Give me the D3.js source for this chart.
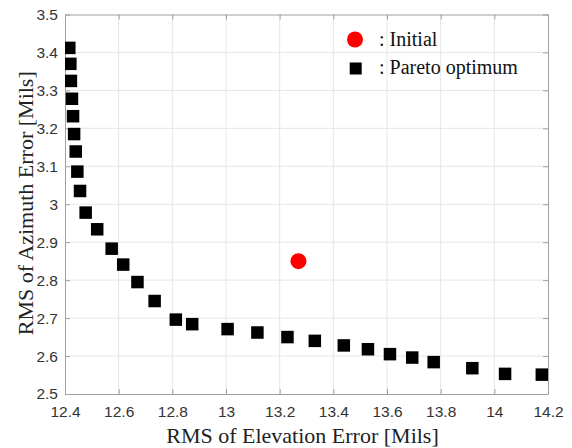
<!DOCTYPE html>
<meta charset="utf-8">
<title>Pareto optimum</title>
<style>
body { margin: 0; background: #fff; }
.grid line { stroke: #e6e6e6; stroke-width: 1; }
.tick text { font-family: "Liberation Sans", Arial, sans-serif; font-size: 15.5px; fill: #333; }
.lbl { font-family: "Liberation Serif", "Times New Roman", serif; font-size: 22px; fill: #222; }
.leg { font-family: "Liberation Serif", "Times New Roman", serif; font-size: 20px; fill: #111; }
</style>
<body>
<script src="https://d3js.org/d3.v7.min.js"></script>
<script>

// pareto front points (elevation error, azimuth error)
var elevation = [12.416, 12.420, 12.422, 12.426, 12.430, 12.434, 12.440, 12.446, 12.456, 12.477,
                 12.520, 12.574, 12.617, 12.670, 12.734, 12.813, 12.874, 13.006, 13.117, 13.229,
                 13.331, 13.439, 13.529, 13.611, 13.694, 13.774, 13.918, 14.040, 14.177];
var azimuth   = [3.412, 3.370, 3.325, 3.278, 3.232, 3.185, 3.139, 3.086, 3.035, 2.978,
                 2.934, 2.883, 2.841, 2.795, 2.745, 2.696, 2.684, 2.671, 2.662, 2.650,
                 2.640, 2.628, 2.618, 2.605, 2.596, 2.584, 2.568, 2.553, 2.551];
var initial = [13.270, 2.850];

var xTicks = [12.4, 12.6, 12.8, 13, 13.2, 13.4, 13.6, 13.8, 14, 14.2];
var yTicks = [2.5, 2.6, 2.7, 2.8, 2.9, 3, 3.1, 3.2, 3.3, 3.4, 3.5];

var margin = {top: 14.5, right: 24, bottom: 54, left: 65},
    width = 572 - margin.left - margin.right,
    height = 448 - margin.top - margin.bottom;

var svg = d3.select("body").append("svg")
    .attr("width", 572)
    .attr("height", 448);

var g = svg.append("g")
    .attr("transform", "translate(" + margin.left + "," + margin.top + ")");

var x = d3.scaleLinear().domain([12.4, 14.2]).range([0, width]);
var y = d3.scaleLinear().domain([2.5, 3.5]).range([height, 0]);

// grid
g.append("g").attr("class", "grid")
    .selectAll("line").data(xTicks.slice(1, -1)).enter().append("line")
    .attr("x1", function(d) { return x(d); }).attr("x2", function(d) { return x(d); })
    .attr("y1", 0).attr("y2", height);
g.append("g").attr("class", "grid")
    .selectAll("line").data(yTicks.slice(1, -1)).enter().append("line")
    .attr("y1", function(d) { return y(d); }).attr("y2", function(d) { return y(d); })
    .attr("x1", 0).attr("x2", width);

// axes, ticks pointing inwards
var fmt = function(d) { return d3.format("")(+d.toFixed(1)); };
function styleAxis(a) {
    a.select(".domain").attr("stroke", "#a0a0a0");
    a.selectAll(".tick line").attr("stroke", "#a0a0a0");
}
g.append("g").attr("transform", "translate(0," + height + ")")
    .call(d3.axisBottom(x).tickValues(xTicks).tickFormat(fmt).tickSizeInner(-5).tickSizeOuter(0).tickPadding(12))
    .call(styleAxis);
g.append("g")
    .call(d3.axisLeft(y).tickValues(yTicks).tickFormat(fmt).tickSizeInner(-5).tickSizeOuter(0).tickPadding(7))
    .call(styleAxis);
g.append("g")
    .call(d3.axisTop(x).tickValues(xTicks).tickFormat("").tickSizeInner(-5).tickSizeOuter(0))
    .call(styleAxis);
g.append("g").attr("transform", "translate(" + width + ",0)")
    .call(d3.axisRight(y).tickValues(yTicks).tickFormat("").tickSizeInner(-5).tickSizeOuter(0))
    .call(styleAxis);

// clip
svg.append("clipPath").attr("id", "clip")
    .append("rect").attr("width", width).attr("height", height);

var plot = g.append("g").attr("clip-path", "url(#clip)");

var sq = 12.5;
plot.selectAll(".pt").data(elevation).enter().append("rect")
    .attr("class", "pt")
    .attr("x", function(d) { return x(d) - sq / 2; })
    .attr("y", function(d, i) { return y(azimuth[i]) - sq / 2; })
    .attr("width", sq).attr("height", sq)
    .attr("fill", "#000");

plot.append("circle")
    .attr("cx", x(initial[0])).attr("cy", y(initial[1]))
    .attr("r", 8).attr("fill", "#ff0000");

// legend
var leg = g.append("g").attr("transform", "translate(290,0)");
leg.append("circle").attr("cx", 0).attr("cy", 25).attr("r", 8).attr("fill", "#ff0000");
leg.append("text").attr("class", "leg").attr("x", 24).attr("y", 31).text(": Initial");
leg.append("rect").attr("x", 0.7 - 6).attr("y", 54 - 6).attr("width", 12).attr("height", 12).attr("fill", "#000");
leg.append("text").attr("class", "leg").attr("x", 24).attr("y", 59).text(": Pareto optimum");

// axis labels
svg.append("text").attr("class", "lbl")
    .attr("x", margin.left + width / 2 - 4).attr("y", 443)
    .attr("text-anchor", "middle")
    .text("RMS of Elevation Error [Mils]");
svg.append("text").attr("class", "lbl")
    .attr("transform", "translate(33," + (margin.top + height / 2 - 1) + ") rotate(-90)")
    .attr("text-anchor", "middle")
    .text("RMS of Azimuth Error [Mils]");

</script>
</body>
